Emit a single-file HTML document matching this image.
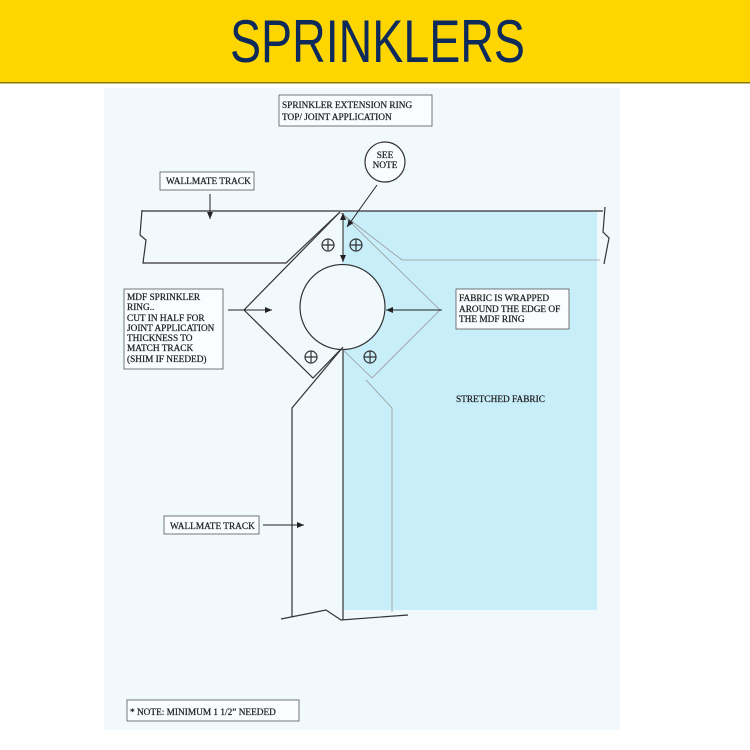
<!DOCTYPE html>
<html><head><style>
html,body{margin:0;padding:0;background:#fff;}
svg{display:block;}
text{font-family:"Liberation Serif",serif;fill:#222;}
</style></head><body>
<svg width="750" height="750" viewBox="0 0 750 750" xmlns="http://www.w3.org/2000/svg">
<defs>
<marker id="ah" markerWidth="8" markerHeight="8" refX="7" refY="4" orient="auto" markerUnits="userSpaceOnUse">
<path d="M0,1 L7,4 L0,7 Z" fill="#222"/></marker>
</defs>
<rect x="0" y="0" width="750" height="83" fill="#fdd500"/>
<rect x="0" y="82" width="750" height="1.5" fill="#8a7a00"/>
<text x="230" y="62" textLength="295" lengthAdjust="spacingAndGlyphs" style="font-family:'Liberation Sans Narrow','Liberation Sans',sans-serif;font-size:60px;fill:#0d2a5a;">SPRINKLERS</text>
<rect x="104" y="88" width="516" height="642" fill="#f1f9fd"/>
<rect x="343" y="211" width="254" height="399" fill="#c8eefa"/>
<g fill="none" stroke="#333" stroke-width="1.2">
<path d="M142,211 L603,211"/>
<path d="M142,210 L140,235 L146,240 L143,263 L286,263 L340,212"/>
<path d="M605,207 L603,232 L609,238 L604,264"/>
<path d="M340,212 L244,310 L313,378 L343,347"/>
<circle cx="342.5" cy="307" r="42.5" fill="#f1f9fd"/>
<path d="M343,347 L292,408 L292,617"/>
<path d="M343,350 L343,620"/>
<path d="M281,619 L326,610 L341,620 L408,615"/>
<circle cx="328" cy="245" r="6"/><path d="M322,245h12M328,239v12"/>
<circle cx="356" cy="245" r="6"/><path d="M350,245h12M356,239v12"/>
<circle cx="311" cy="357" r="6"/><path d="M305,357h12M311,351v12"/>
<circle cx="370" cy="357" r="6"/><path d="M364,357h12M370,351v12"/>
<circle cx="385" cy="162" r="20" fill="#fafdff"/>
</g>
<g fill="none" stroke="#999" stroke-width="0.8">
<path d="M341,213 L402,260 L600,260"/>
<path d="M341,213 L440,310 L372,378 L343,350"/>
<path d="M366,380 L392,408 L392,612"/>
</g>
<g fill="none" stroke="#222" stroke-width="1">
<path d="M343,222 L343,262" marker-end="url(#ah)"/>
<path d="M343,250 L343,213" marker-end="url(#ah)"/>
<path d="M377,185 L347,227" marker-end="url(#ah)"/>
<path d="M210,194 L210,219" marker-end="url(#ah)"/>
<path d="M228,310 L272,310" marker-end="url(#ah)"/>
<path d="M442,310 L386,310" marker-end="url(#ah)"/>
<path d="M263,525 L304,525" marker-end="url(#ah)"/>
</g>
<g fill="#fafdff" stroke="#555" stroke-width="0.8">
<rect x="279" y="95" width="153" height="31"/>
<rect x="160" y="172" width="94" height="18"/>
<rect x="124" y="289" width="99" height="80"/>
<rect x="456" y="289" width="113" height="40"/>
<rect x="164" y="516" width="95" height="18"/>
<rect x="127" y="700" width="172" height="21"/>
</g>
<g style="font-size:9.3px;" stroke="#222" stroke-width="0.25">
<text x="282" y="108">SPRINKLER EXTENSION RING</text>
<text x="282" y="120">TOP/ JOINT APPLICATION</text>
<text x="385" y="158" text-anchor="middle">SEE</text>
<text x="385" y="168" text-anchor="middle">NOTE</text>
<text x="166" y="184">WALLMATE TRACK</text>
<text x="127" y="300">MDF SPRINKLER</text>
<text x="127" y="310">RING..</text>
<text x="127" y="321">CUT IN HALF FOR</text>
<text x="127" y="331">JOINT APPLICATION</text>
<text x="127" y="341">THICKNESS TO</text>
<text x="127" y="351">MATCH TRACK</text>
<text x="127" y="362">(SHIM IF NEEDED)</text>
<text x="459" y="301">FABRIC IS WRAPPED</text>
<text x="459" y="312">AROUND THE EDGE OF</text>
<text x="459" y="322">THE MDF RING</text>
<text x="456" y="402">STRETCHED FABRIC</text>
<text x="170" y="529">WALLMATE TRACK</text>
<text x="130" y="715">* NOTE: MINIMUM 1 1/2” NEEDED</text>
</g>
</svg>
</body></html>
